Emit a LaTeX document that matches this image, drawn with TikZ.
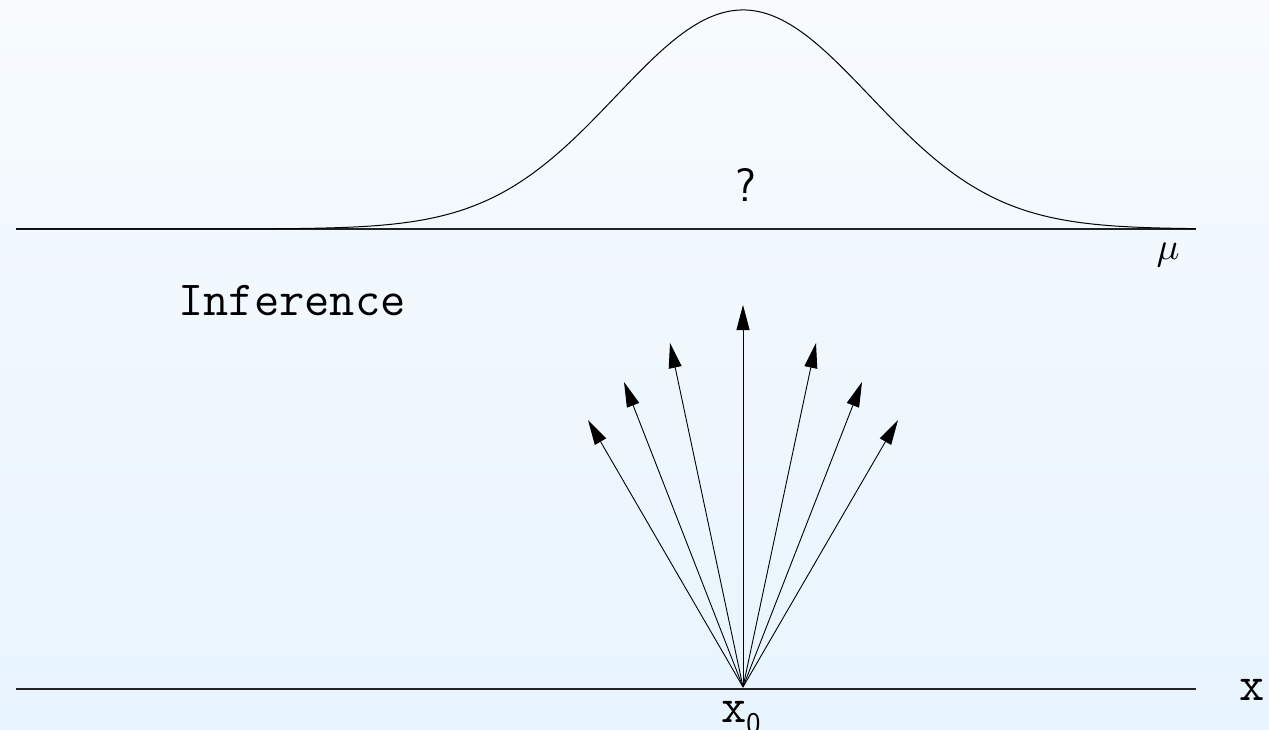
\documentclass[tikz,border=0pt]{standalone}
\usetikzlibrary{arrows.meta}
\definecolor{bgtop}{RGB}{247,251,254}
\definecolor{bgbot}{RGB}{232,244,254}
\definecolor{axiscol}{RGB}{35,35,35}
\begin{document}
\begin{tikzpicture}[x=1pt,y=-1pt,
  axis/.style={draw=axiscol,line width=1.6pt},
  curve/.style={draw=black,line width=1pt},
  ray/.style={draw=black,line width=0.9pt,-{Triangle[length=25pt,width=13pt]}},
  ttlab/.style={inner sep=0pt,font=\fontsize{49}{50}\selectfont\ttfamily},
  qlab/.style={inner sep=0pt,font=\fontsize{47}{48}\selectfont\sffamily},
  mulab/.style={inner sep=0pt}]
\shade[top color=bgtop,bottom color=bgbot] (0,0) rectangle (1269,730);
\useasboundingbox (0,0) rectangle (1269,730);

% top axis and gaussian
\coordinate (tA) at (16,229);
\coordinate (tB) at (1196,229);
\draw[axis] (tA) -- (tB);
\draw[curve] plot[domain=16:1195,samples=240,smooth] (\x,{229-219*exp(-0.5*((\x-743)/127)^2)});
\node[qlab] (q) at (746,185) {?};
\node[mulab] (mu) at (1168,255) {\scalebox{3.8}{$\mu$}};

\node[ttlab,anchor=base] (inf) at (292,315) {Inference};

% bottom axis
\coordinate (bA) at (16,689);
\coordinate (bB) at (1196,689);
\draw[axis] (bA) -- (bB);
\node[ttlab,anchor=base] (xax) at (1252,700) {x};
\node[ttlab,anchor=base west] (x0) at (721,722) {x\raisebox{-11pt}{\fontsize{30}{30}\selectfont\sffamily 0}};

% rays
\coordinate (o) at (743,687);
\coordinate (c0) at (743,305);
\coordinate (l1) at (670,343);
\coordinate (r1) at (816,343);
\coordinate (l2) at (624,382);
\coordinate (r2) at (862,382);
\coordinate (l3) at (588,420);
\coordinate (r3) at (898,420);
\foreach \t in {c0,l1,r1,l2,r2,l3,r3} \draw[ray] (o) -- (\t);
\end{tikzpicture}
\end{document}
